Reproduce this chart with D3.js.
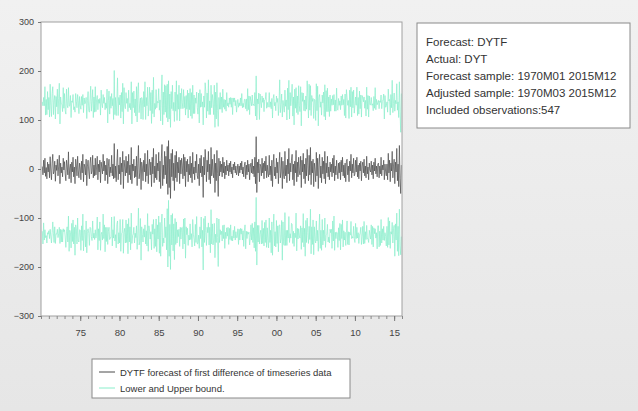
<!DOCTYPE html>
<html>
<head>
<meta charset="utf-8">
<script src="https://cdn.jsdelivr.net/npm/d3@7"></script>
<style>
  body { margin: 0; background: #ececec; }
  svg { display: block; }
</style>
</head>
<body>
<div id="chart"></div>
<script>
// forecast DYTF, monthly from 1970M03, one row per year
var forecast = [
  5,-12,18,-8,22,-15,3,-20,14,-6,
  10,-18,25,-4,-22,12,30,-10,-5,16,-25,8,
  -3,20,-14,6,28,-30,12,-8,4,-16,22,-2,
  15,-10,-24,18,6,-12,35,-20,2,10,-28,14,
  -6,24,-16,4,-30,20,8,-14,26,-4,-18,12,
  2,-22,16,-8,30,-26,10,4,-12,20,-34,6,
  18,-6,-20,12,24,-10,-4,28,-18,8,-14,22,
  -12,4,26,-22,10,-6,18,-28,14,2,-10,30,
  -4,16,-24,8,-12,22,-30,6,20,-16,4,-8,
  28,-14,10,-20,52,-18,6,-26,14,40,-22,8,
  -10,24,-32,12,-6,36,-40,18,4,-14,26,-8,
  16,-28,30,-12,8,-22,44,-30,10,-4,20,-18,
  6,-16,26,-34,12,48,-20,-8,22,-42,14,4,
  -24,18,-6,32,-26,10,-14,38,-30,8,20,-12,
  14,-36,24,-10,42,-28,6,-18,30,-22,12,-4,
  34,-26,16,-40,22,50,-34,8,-20,36,-12,26,
  -30,46,-52,58,-38,20,-60,32,-16,40,-24,12,
  -44,28,-18,36,-26,14,-8,24,-30,18,-10,22,
  8,-20,30,-14,24,-36,16,-6,20,-26,10,-12,
  26,-18,12,-28,34,-10,4,-22,16,-8,30,-14,
  -20,10,-34,22,-8,28,-16,6,-58,24,-12,40,
  14,-26,18,-6,36,-22,10,-30,44,-14,20,-8,
  -18,30,-48,12,-24,38,-10,-56,22,-14,16,-6,
  10,-16,24,-8,14,-20,6,-12,18,-4,8,-14,
  12,-6,16,-10,4,-18,10,-2,14,-8,6,-12,
  -4,10,-14,6,-8,12,-2,16,-10,4,-16,8,
  14,-20,8,-12,18,-6,10,-22,4,12,-8,20,
  -10,6,-16,24,-30,66,-48,14,-8,20,-26,10,
  6,-14,22,-8,12,-20,16,-4,26,-18,8,-10,
  -16,28,-12,6,-24,18,-36,10,30,-14,4,-20,
  22,-8,14,-30,10,34,-18,-6,24,-40,16,-12,
  -20,36,-14,8,-28,20,-10,42,-24,12,-6,18,
  30,-22,10,-34,16,-8,38,-26,14,-16,24,-4,
  -12,26,-38,18,-6,32,-20,10,-30,22,-14,40,
  8,-24,28,-12,44,-32,16,-8,20,-36,12,-2,
  -26,34,-14,22,-40,10,30,-18,6,-28,24,-10,
  16,-20,36,-30,12,-8,26,-16,4,-22,14,-6,
  10,-16,22,-8,28,-24,6,-12,18,-4,-20,12,
  -8,14,-22,18,-6,24,-14,8,-18,12,-26,16,
  20,-12,6,-26,16,-4,30,-18,10,-8,22,-14,
  -10,18,-6,24,-16,8,-20,12,-4,16,-24,6,
  14,-8,20,-14,6,-18,26,-10,4,-22,12,-2,
  -6,16,-12,8,-20,14,-4,22,-10,6,-16,10,
  12,-18,6,-10,24,-14,8,-2,18,-22,10,-6,
  -14,10,-22,32,-8,18,-26,12,-4,36,-18,6,
  20,-30,14,-6,42,-24,10,-36,48,-20,-50,8
];

// 2 x S.E. of the forecast, same months
var twoSE = [
  132,141,128,137,146,125,139,131,144,127,
  136,124,148,133,129,142,138,121,145,134,127,140,
  130,143,126,138,147,122,135,141,128,133,144,126,
  139,129,136,145,124,137,131,148,127,140,133,125,
  142,128,137,123,146,134,130,139,126,143,131,136,
  127,144,132,138,122,141,135,129,147,126,137,133,
  140,125,136,131,145,128,142,134,123,139,130,146,
  129,137,124,143,132,140,126,138,147,131,135,122,
  138,130,145,127,136,141,124,133,139,128,144,132,
  126,143,134,121,149,129,140,135,127,146,131,138,
  141,127,136,144,123,139,132,148,125,137,130,142,
  128,145,131,137,126,143,134,122,146,129,139,133,
  137,124,142,130,147,128,135,141,123,144,132,138,
  125,140,133,146,127,136,143,129,138,124,147,131,
  142,129,137,123,145,134,128,140,132,147,126,139,
  130,146,125,138,133,142,124,149,131,136,128,144,
  135,127,148,122,140,133,145,126,139,131,143,124,
  141,129,136,144,125,138,130,147,128,137,133,142,
  127,143,132,139,124,146,134,128,141,130,145,133,
  138,126,144,131,137,123,147,135,129,142,127,139,
  132,145,128,140,134,126,143,131,148,125,138,136,
  144,130,137,124,146,133,129,141,127,139,132,147,
  129,141,133,145,126,138,130,143,124,136,140,128,
  137,131,139,134,128,142,135,130,138,133,127,140,
  133,138,130,136,141,129,135,139,131,137,134,128,
  136,132,140,129,137,133,131,138,135,130,142,134,
  128,143,135,130,146,127,139,133,144,126,137,131,
  140,126,145,132,138,124,148,129,141,135,127,143,
  131,139,127,144,133,137,125,146,130,142,128,136,
  145,128,138,131,147,126,140,134,122,143,132,139,
  127,144,130,139,125,148,133,137,129,146,124,141,
  136,125,142,133,128,145,131,139,126,144,135,129,
  143,130,137,124,147,132,128,141,135,127,146,133,
  129,142,126,138,144,123,139,131,148,127,136,140,
  137,128,145,132,126,141,134,146,124,139,130,143,
  125,140,133,147,128,136,122,144,131,138,127,145,
  141,127,136,130,148,125,139,133,143,129,137,124,
  133,146,128,139,124,142,135,130,147,126,140,132,
  138,125,143,131,136,128,145,134,127,141,130,146,
  126,142,134,129,145,131,137,124,148,133,139,128,
  140,129,136,143,125,138,132,147,127,135,130,144,
  131,145,127,138,134,126,141,132,146,128,137,133,
  137,130,142,125,139,134,128,144,131,136,147,126,
  128,141,133,146,127,137,130,143,135,124,140,132,
  143,127,138,131,147,124,136,140,129,145,133,128,
  135,148,126,139,132,144,127,141,130,137,125,146
];

var yTicks = [300, 200, 100, 0, -100, -200, -300];
var yearLabels = ['75', '80', '85', '90', '95', '00', '05', '10', '15'];
var labelYears = [1975, 1980, 1985, 1990, 1995, 2000, 2005, 2010, 2015];
var infoLines = [
  'Forecast: DYTF',
  'Actual: DYT',
  'Forecast sample: 1970M01 2015M12',
  'Adjusted sample: 1970M03 2015M12',
  'Included observations:547'
];
var legendItems = ['DYTF forecast of first difference of timeseries data', 'Lower and Upper bound.'];

var svgWidth = 638;
var svgHeight = 411;
var plot = {left: 41, top: 22, right: 402, bottom: 316};

var svg = d3.select('#chart')
  .append('svg')
  .attr('width', svgWidth)
  .attr('height', svgHeight)
  .style('font-family', '"Liberation Sans", Arial, sans-serif');

// soft gray backdrop
var grad = svg.append('defs').append('linearGradient')
  .attr('id', 'bg').attr('x1', 0).attr('y1', 0).attr('x2', 0).attr('y2', 1);
grad.append('stop').attr('offset', '0%').attr('stop-color', '#f1f1f1');
grad.append('stop').attr('offset', '100%').attr('stop-color', '#e6e6e6');
svg.append('rect').attr('width', svgWidth).attr('height', svgHeight).attr('fill', 'url(#bg)');

var xScale = d3.scaleLinear().domain([1970, 2016]).range([plot.left, plot.right]);
var yScale = d3.scaleLinear().domain([-300, 300]).range([plot.bottom, plot.top]);

svg.append('rect')
  .attr('x', plot.left).attr('y', plot.top)
  .attr('width', plot.right - plot.left).attr('height', plot.bottom - plot.top)
  .attr('fill', '#fff');

var data = forecast.map(function(f, i) {
  return {t: 1970 + (2 + i) / 12, f: f, lo: f - twoSE[i], hi: f + twoSE[i]};
});

var clip = svg.select('defs').append('clipPath').attr('id', 'clip');
clip.append('rect').attr('x', plot.left).attr('y', plot.top)
  .attr('width', plot.right - plot.left).attr('height', plot.bottom - plot.top);

var lines = svg.append('g').attr('clip-path', 'url(#clip)');
['hi', 'lo'].forEach(function(k) {
  lines.append('path')
    .datum(data)
    .attr('fill', 'none')
    .attr('stroke', '#8aeecb')
    .attr('stroke-width', 0.7)
    .attr('d', d3.line().x(d => xScale(d.t)).y(d => yScale(d[k])));
});
lines.append('path')
  .datum(data)
  .attr('fill', 'none')
  .attr('stroke', '#4a4a4a')
  .attr('stroke-width', 0.7)
  .attr('d', d3.line().x(d => xScale(d.t)).y(d => yScale(d.f)));

// frame
svg.append('rect')
  .attr('x', plot.left).attr('y', plot.top)
  .attr('width', plot.right - plot.left).attr('height', plot.bottom - plot.top)
  .attr('fill', 'none').attr('stroke', '#a0a0a0');

// y axis
var leftAxis = d3.axisLeft(yScale).tickValues(yTicks).tickSize(3).tickPadding(4);
var gy = svg.append('g').attr('transform', `translate(${plot.left},0)`).call(leftAxis);
gy.select('.domain').remove();
gy.selectAll('line').attr('stroke', '#777');
gy.selectAll('text').attr('fill', '#444').attr('font-size', '9px');

// x axis, yearly minor ticks
var years = d3.range(1970, 2017);
var minorAxis = d3.axisBottom(xScale).tickValues(years).tickSize(3).tickFormat('');
var gxm = svg.append('g').attr('transform', `translate(0,${plot.bottom})`).call(minorAxis);
gxm.select('.domain').remove();
gxm.selectAll('line').attr('stroke', '#888');

var bottomAxis = d3.axisBottom(xScale).tickValues(labelYears).tickSize(5).tickPadding(8)
  .tickFormat((d, i) => yearLabels[i]);
var gx = svg.append('g').attr('transform', `translate(0,${plot.bottom})`).call(bottomAxis);
gx.select('.domain').remove();
gx.selectAll('line').attr('stroke', '#777');
gx.selectAll('text').attr('fill', '#444').attr('font-size', '9.5px');

// info box
var info = svg.append('g').attr('transform', 'translate(417,23)');
info.append('rect').attr('width', 213).attr('height', 105)
  .attr('fill', '#fff').attr('stroke', '#8a8a8a');
info.selectAll('text').data(infoLines).enter().append('text')
  .attr('x', 9).attr('y', (d, i) => 23 + i * 17)
  .attr('font-size', '11.5px').attr('fill', '#333')
  .text(d => d);

// legend
var legend = svg.append('g').attr('transform', 'translate(92,359)');
legend.append('rect').attr('width', 258).attr('height', 39)
  .attr('fill', '#fff').attr('stroke', '#8a8a8a');
var legendColors = ['#4a4a4a', '#8aeecb'];
legend.selectAll('line').data(legendItems).enter().append('line')
  .attr('x1', 7).attr('x2', 23)
  .attr('y1', (d, i) => 13 + i * 16).attr('y2', (d, i) => 13 + i * 16)
  .attr('stroke', (d, i) => legendColors[i]);
legend.selectAll('text').data(legendItems).enter().append('text')
  .attr('x', 28).attr('y', (d, i) => 16.5 + i * 16)
  .attr('font-size', '9.5px').attr('fill', '#333')
  .text(d => d);
</script>
</body>
</html>
